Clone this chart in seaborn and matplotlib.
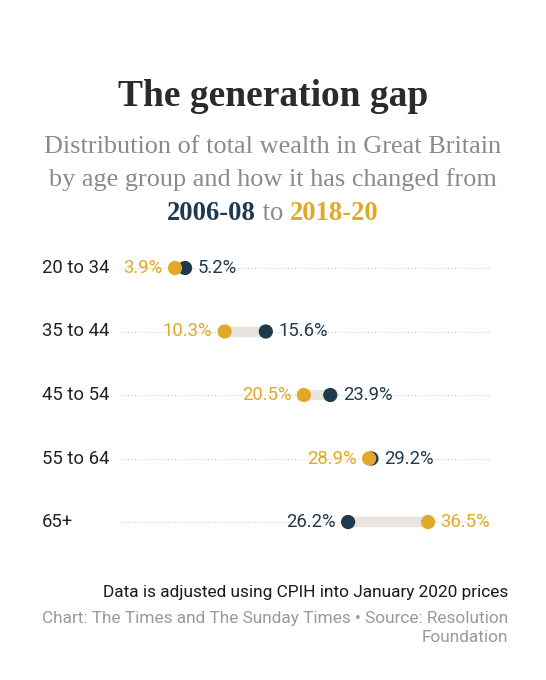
import matplotlib
matplotlib.use("Agg")
import matplotlib.pyplot as plt
import seaborn as sns
import pandas as pd

# ---- data ----
age_groups = ["20 to 34", "35 to 44", "45 to 54", "55 to 64", "65+"]
share_2006_08 = [5.2, 15.6, 23.9, 29.2, 26.2]
share_2018_20 = [3.9, 10.3, 20.5, 28.9, 36.5]
period_labels = ["2006-08", "2018-20"]

NAVY = "#1f3a4f"
GOLD = "#e1a928"
GREY_SUB = "#8a8a8a"

sns.set_theme(style="white")
plt.rcParams["font.family"] = ["Roboto", "DejaVu Sans"]

df = pd.DataFrame({"age": age_groups, "p1": share_2006_08, "p2": share_2018_20})
df["row"] = range(len(df))
long = pd.concat([
    pd.DataFrame({"age": df["age"], "row": df["row"], "value": df["p1"], "period": period_labels[0]}),
    pd.DataFrame({"age": df["age"], "row": df["row"], "value": df["p2"], "period": period_labels[1]}),
])

W, H = 546, 680
fig = plt.figure(figsize=(W / 100, H / 100), dpi=100)
fig.patch.set_facecolor("white")

ax_left, ax_right = 121, 491
row_top, row_bot = 268, 522
step = (row_bot - row_top) / (len(age_groups) - 1)
top_px = row_top - step / 2
bot_px = row_bot + step / 2
ax = fig.add_axes([ax_left / W, 1 - bot_px / H, (ax_right - ax_left) / W, (bot_px - top_px) / H])
ax.set_xlim(-3.05, 44.6)
ax.set_ylim(len(age_groups) - 0.5, -0.5)

# dotted guide lines
ax.hlines(df["row"], -3.05, 44.6, colors="#cfcfcf", linestyles=(0, (1, 2)), linewidth=0.8, zorder=0)
# connectors
ax.hlines(df["row"], df[["p1", "p2"]].min(axis=1), df[["p1", "p2"]].max(axis=1),
          colors="#e8e5e1", linewidth=7.5, zorder=1)

sns.scatterplot(data=long, x="value", y="row", hue="period", hue_order=period_labels,
                palette=[NAVY, GOLD], s=105, linewidth=0, legend=False, ax=ax, zorder=3)

VAL_FS = 13.3
for _, r in df.iterrows():
    lo, hi = sorted([(r["p1"], NAVY), (r["p2"], GOLD)], key=lambda t: t[0])
    ax.annotate(f"{lo[0]:.1f}%", (lo[0], r["row"]), xytext=(-9, 0), textcoords="offset points",
                ha="right", va="center", color=lo[1], fontsize=VAL_FS, zorder=4)
    ax.annotate(f"{hi[0]:.1f}%", (hi[0], r["row"]), xytext=(9, 0), textcoords="offset points",
                ha="left", va="center", color=hi[1], fontsize=VAL_FS, zorder=4)
    ax.annotate(r["age"], (0, r["row"]), xycoords=("figure fraction", "data"),
                xytext=(42 * 0.72, 0), textcoords="offset points",
                ha="left", va="center", color="#222222", fontsize=13.3)

ax.set_axis_off()

# ---- titles ----
serif = ["Liberation Serif", "DejaVu Serif"]
fig.text(0.5, 1 - 97 / H, "The generation gap", ha="center", va="center",
         fontsize=27, fontweight="bold", family=serif, color="#2b2b2b")
fig.text(0.5, 1 - 147 / H, "Distribution of total wealth in Great Britain", ha="center", va="center",
         fontsize=18.9, family=serif, color=GREY_SUB)
fig.text(0.5, 1 - 180 / H, "by age group and how it has changed from", ha="center", va="center",
         fontsize=18.9, family=serif, color=GREY_SUB)

# coloured third line
y3 = 1 - 214 / H
renderer = fig.canvas.get_renderer()
parts = [(period_labels[0], NAVY, "bold"), (" to ", GREY_SUB, "normal"), (period_labels[1], GOLD, "bold")]
texts = [fig.text(0, y3, t, ha="left", va="center", fontsize=19.2, family=serif, color=c, fontweight=w)
         for t, c, w in parts]
widths = [t.get_window_extent(renderer).width for t in texts]
x = (W - sum(widths)) / 2
for t, wd in zip(texts, widths):
    t.set_x(x / W)
    x += wd

# ---- footer ----
FOOT_FS = 12.4
fig.text(508 / W, 1 - 592 / H, "Data is adjusted using CPIH into January 2020 prices",
         ha="right", va="center", fontsize=FOOT_FS, color="#1a1a1a")
fig.text(508 / W, 1 - 619 / H, "Chart: The Times and The Sunday Times \u2022 Source: Resolution",
         ha="right", va="center", fontsize=FOOT_FS, color="#9a9a9a")
fig.text(508 / W, 1 - 638 / H, "Foundation",
         ha="right", va="center", fontsize=FOOT_FS, color="#9a9a9a")

fig.savefig("out.png", dpi=100, facecolor="white")
